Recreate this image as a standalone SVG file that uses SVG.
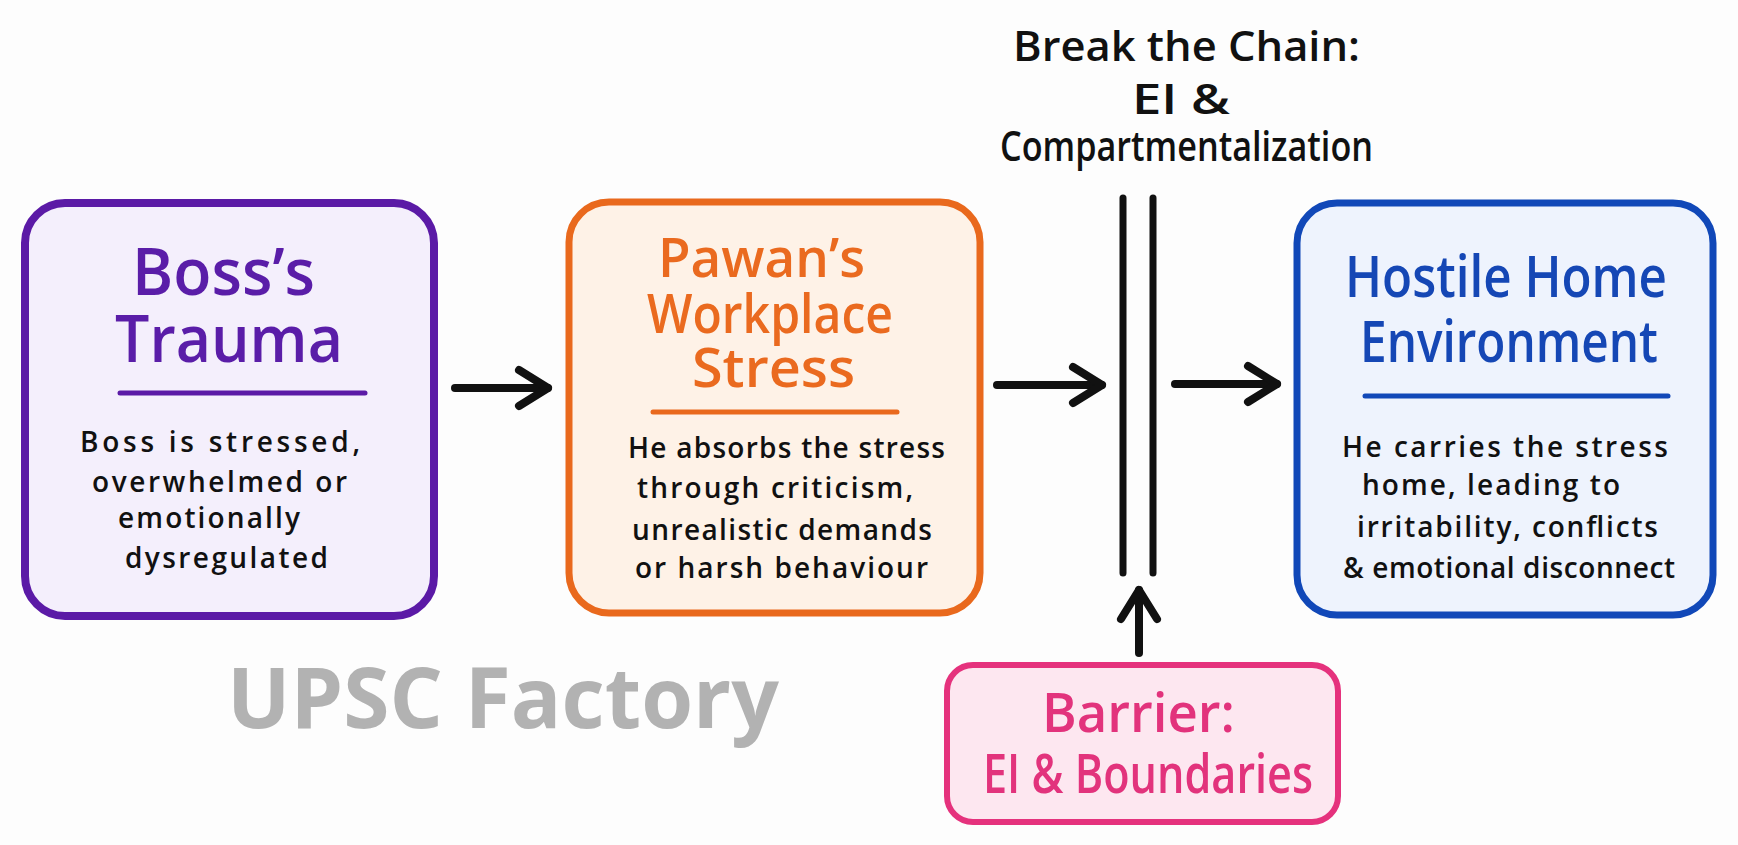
<svg xmlns="http://www.w3.org/2000/svg" width="1738" height="845" viewBox="0 0 1738 845">
<style>
.t{font-family:"Open Sans","Noto Sans","Liberation Sans",sans-serif;}
.title{font-weight:600;}
.body{font-size:28px;fill:#111;font-weight:600;}
.hdr{font-size:42px;fill:#111;font-weight:600;}
.line{stroke-width:5;stroke-linecap:round;fill:none;}
.conn{stroke:#111;stroke-width:8;stroke-linecap:round;stroke-linejoin:round;fill:none;}
.bar{stroke:#111;stroke-width:7;stroke-linecap:round;fill:none;}
</style>
<defs>
<marker id="head" markerUnits="userSpaceOnUse" viewBox="0 0 40 40" refX="36" refY="20" markerWidth="40" markerHeight="40" orient="auto" overflow="visible">
<path d="M7 2 L36 20 L7 38" fill="none" stroke="#111" stroke-width="8" stroke-linecap="round" stroke-linejoin="round"/>
</marker>
</defs>
<rect width="1738" height="845" fill="#fdfdfd"/>

<g id="watermark">
<text class="t" x="227" y="728" font-size="84" font-weight="700" fill="#b2b2b2" textLength="552" lengthAdjust="spacingAndGlyphs">UPSC Factory</text>
</g>

<g id="header">
<text class="t hdr" x="1013" y="61" textLength="347" lengthAdjust="spacingAndGlyphs">Break the Chain:</text>
<text class="t hdr" x="1132" y="114" textLength="98" lengthAdjust="spacingAndGlyphs">EI &amp;</text>
<text class="t hdr" x="1000" y="161" textLength="373" lengthAdjust="spacingAndGlyphs">Compartmentalization</text>
</g>

<g id="boss">
<rect x="25" y="203" width="409" height="413" rx="40" fill="#f4effc" stroke="#5b1aa6" stroke-width="8"/>
<text class="t title" x="132" y="295" fill="#5a1da8" font-size="66" textLength="183" lengthAdjust="spacingAndGlyphs">Boss’s</text>
<text class="t title" x="115" y="362" fill="#5a1da8" font-size="66" textLength="228" lengthAdjust="spacingAndGlyphs">Trauma</text>
<line class="line" x1="120" y1="393" x2="365" y2="393" stroke="#5b1aa6"/>
<text class="t body" x="80" y="452" textLength="280" lengthAdjust="spacing">Boss is stressed,</text>
<text class="t body" x="92" y="492" textLength="255" lengthAdjust="spacing">overwhelmed or</text>
<text class="t body" x="118" y="528" textLength="182" lengthAdjust="spacing">emotionally</text>
<text class="t body" x="125" y="568" textLength="203" lengthAdjust="spacing">dysregulated</text>
</g>

<g id="pawan">
<rect x="569" y="202" width="411" height="411" rx="40" fill="#fef2e7" stroke="#e9691d" stroke-width="7"/>
<text class="t title" x="658" y="277" fill="#ea6a1f" font-size="54" textLength="207" lengthAdjust="spacingAndGlyphs">Pawan’s</text>
<text class="t title" x="647" y="333" fill="#ea6a1f" font-size="54" textLength="246" lengthAdjust="spacingAndGlyphs">Workplace</text>
<text class="t title" x="692" y="387" fill="#ea6a1f" font-size="54" textLength="163" lengthAdjust="spacingAndGlyphs">Stress</text>
<line class="line" x1="653" y1="412" x2="897" y2="412" stroke="#e9691d"/>
<text class="t body" x="628" y="458" textLength="317" lengthAdjust="spacing">He absorbs the stress</text>
<text class="t body" x="637" y="498" textLength="276" lengthAdjust="spacing">through criticism,</text>
<text class="t body" x="632" y="540" textLength="300" lengthAdjust="spacing">unrealistic demands</text>
<text class="t body" x="635" y="578" textLength="293" lengthAdjust="spacing">or harsh behaviour</text>
</g>

<g id="home">
<rect x="1297" y="203" width="416" height="412" rx="40" fill="#eef3fd" stroke="#1148b8" stroke-width="7"/>
<text class="t title" x="1345" y="297" fill="#1547b5" font-size="57" textLength="322" lengthAdjust="spacingAndGlyphs">Hostile Home</text>
<text class="t title" x="1360" y="362" fill="#1547b5" font-size="57" textLength="298" lengthAdjust="spacingAndGlyphs">Environment</text>
<line class="line" x1="1365" y1="396" x2="1668" y2="396" stroke="#1148b8"/>
<text class="t body" x="1342" y="457" textLength="326" lengthAdjust="spacing">He carries the stress</text>
<text class="t body" x="1362" y="495" textLength="258" lengthAdjust="spacing">home, leading to</text>
<text class="t body" x="1357" y="537" textLength="301" lengthAdjust="spacing">irritability, conflicts</text>
<text class="t body" x="1343" y="578" textLength="332" lengthAdjust="spacing">&amp; emotional disconnect</text>
</g>

<g id="barrier">
<rect x="947" y="665" width="391" height="157" rx="26" fill="#fde7f0" stroke="#e5327d" stroke-width="6"/>
<text class="t title" x="1042" y="732" font-size="54" fill="#e2337c" textLength="193" lengthAdjust="spacingAndGlyphs">Barrier:</text>
<text class="t title" x="983" y="793" font-size="54" fill="#e2337c" textLength="330" lengthAdjust="spacingAndGlyphs">EI &amp; Boundaries</text>
</g>

<g id="wall">
<line class="bar" x1="1123" y1="198" x2="1123" y2="573"/>
<line class="bar" x1="1153" y1="198" x2="1153" y2="573"/>
</g>

<g id="connectors">
<path class="conn" d="M455 388 H548" marker-end="url(#head)"/>
<path class="conn" d="M997 385 H1102" marker-end="url(#head)"/>
<path class="conn" d="M1175 384 H1277" marker-end="url(#head)"/>
<path class="conn" d="M1139 653 V590" marker-end="url(#head)"/>
</g>
</svg>
